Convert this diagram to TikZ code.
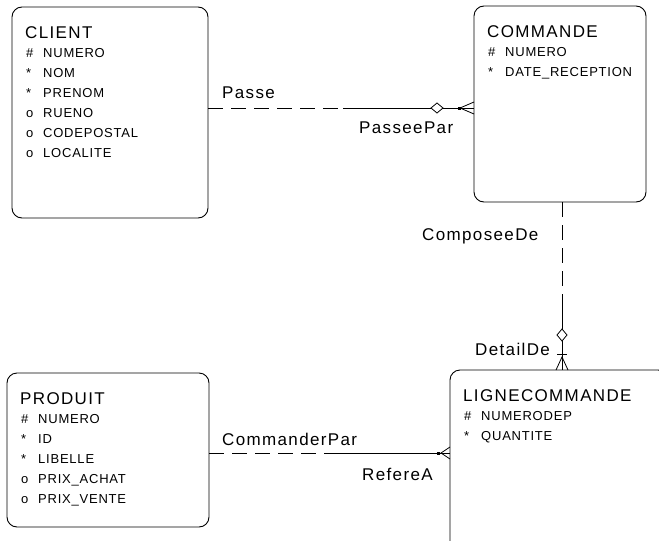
\documentclass[tikz,border=0pt]{standalone}
\usepackage{fontspec}
\setmainfont{Liberation Sans}
\newfontfamily\titrefont[LetterSpace=8]{Liberation Sans}
\newfontfamily\attrfont[LetterSpace=6]{Liberation Sans}
\usetikzlibrary{calc}

\begin{document}
\begin{tikzpicture}[x=1pt,y=-1pt,
    entite/.style={draw, line width=0.9pt, rounded corners=10pt, inner sep=0pt, outer sep=0pt, anchor=north west},
    titre/.style={anchor=base west, inner sep=0pt, font=\titrefont\fontsize{17}{17}\selectfont},
    attr/.style={anchor=base west, inner sep=0pt, font=\attrfont\fontsize{13}{13}\selectfont},
    lib/.style={anchor=base west, inner sep=0pt, font=\titrefont\fontsize{17}{17}\selectfont},
    tiret/.style={line width=0.8pt, dash pattern=on 15pt off 8pt},
    plein/.style={line width=0.8pt}]
		\useasboundingbox (0,0) rectangle (659,541);
		\clip (0,0) rectangle (659,541);
		% entités
		\node [entite, minimum width=196pt, minimum height=211pt] (client) at (12,7) {};
		\node [entite, minimum width=172pt, minimum height=196pt] (commande) at (474,6) {};
		\node [entite, minimum width=202pt, minimum height=154pt] (produit) at (7,373) {};
		\node [entite, minimum width=218pt, minimum height=200pt] (ligne) at (450,370) {};
		% titres
		\node [titre] (client-t) at ($(client.north west)+(13,31)$) {CLIENT};
		\node [titre] (commande-t) at ($(commande.north west)+(13,31)$) {COMMANDE};
		\node [titre] (produit-t) at ($(produit.north west)+(13,31)$) {PRODUIT};
		\node [titre] (ligne-t) at ($(ligne.north west)+(13,31)$) {LIGNECOMMANDE};
		% attributs
		\foreach \s/\a [count=\i from 0] in {\#/NUMERO,*/NOM,*/PRENOM,o/RUENO,o/CODEPOSTAL,o/LOCALITE} {
			\node [attr] (client-s\i) at ($(client.north west)+(14,50+20*\i)$) {\s};
			\node [attr] (client-a\i) at ($(client.north west)+(31,50+20*\i)$) {\a};
		}
		\foreach \s/\a [count=\i from 0] in {\#/NUMERO,*/DATE\_RECEPTION} {
			\node [attr] (commande-s\i) at ($(commande.north west)+(14,50+20*\i)$) {\s};
			\node [attr] (commande-a\i) at ($(commande.north west)+(31,50+20*\i)$) {\a};
		}
		\foreach \s/\a [count=\i from 0] in {\#/NUMERO,*/ID,*/LIBELLE,o/PRIX\_ACHAT,o/PRIX\_VENTE} {
			\node [attr] (produit-s\i) at ($(produit.north west)+(14,50+20*\i)$) {\s};
			\node [attr] (produit-a\i) at ($(produit.north west)+(31,50+20*\i)$) {\a};
		}
		\foreach \s/\a [count=\i from 0] in {\#/NUMERODEP,*/QUANTITE} {
			\node [attr] (ligne-s\i) at ($(ligne.north west)+(14,50+20*\i)$) {\s};
			\node [attr] (ligne-a\i) at ($(ligne.north west)+(31,50+20*\i)$) {\a};
		}
		% lien Passe / PasseePar
		\coordinate (pA) at (client.east |- 0,108);
		\coordinate (pM) at (343,108);
		\coordinate (pB) at (commande.west |- 0,108);
		\draw [tiret] (pA) -- (pM);
		\draw [plein] (pM) -- (pB);
		\draw [plein, fill=white] (pB) ++(-43,0) -- ++(6,-5) -- ++(6,5) -- ++(-6,5) -- cycle;
		\fill (pB) ++(-16.5,-1.5) rectangle ++(3,3);
		\draw [plein] (pB) ++(0,-6) -- ++(-14,6) -- ++(14,6);
		% lien ComposeeDe / DetailDe
		\coordinate (cA) at (commande.south -| 562,0);
		\coordinate (cM) at (562,300);
		\coordinate (cB) at (ligne.north -| 562,0);
		\draw [tiret] (cA) -- (cM);
		\draw [plein] (cM) -- (cB);
		\draw [plein, fill=white] (cB) ++(0,-41) -- ++(5,6) -- ++(-5,6) -- ++(-5,-6) -- cycle;
		\draw [plein] (cB) ++(-5,-16) -- ++(10,0);
		\draw [plein] (cB) ++(-6,0) -- ++(6,-13) -- ++(6,13);
		% lien CommanderPar / RefereA
		\coordinate (rA) at (produit.east |- 0,453);
		\coordinate (rM) at (332,453);
		\coordinate (rB) at (ligne.west |- 0,453);
		\draw [tiret] (rA) -- (rM);
		\draw [plein] (rM) -- (rB);
		\fill (rB) ++(-13.5,-1.5) rectangle ++(3,3);
		\draw [plein] (rB) ++(0,-6) -- ++(-9,6) -- ++(9,6);
		% libellés
		\node [lib] (l-passe) at (222,98) {Passe};
		\node [lib] (l-passeepar) at (359,133) {PasseePar};
		\node [lib] (l-composee) at (422,240) {ComposeeDe};
		\node [lib] (l-detail) at (475,355) {DetailDe};
		\node [lib] (l-commander) at (222,445) {CommanderPar};
		\node [lib] (l-refere) at (362,480) {RefereA};
\end{tikzpicture}
\end{document}
